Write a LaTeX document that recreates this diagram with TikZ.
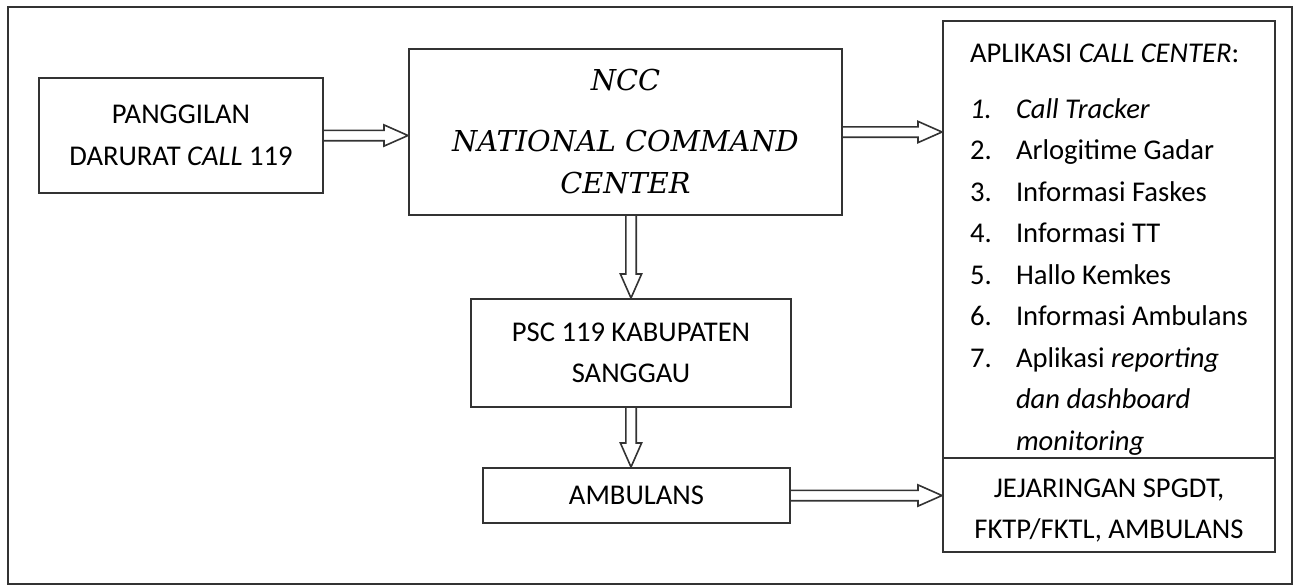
\documentclass[tikz,border=0pt]{standalone}
\usepackage{fontspec}
\setmainfont{Carlito}
\newfontfamily\nccfont{DejaVu Serif}
\usepackage{tikz}
\usetikzlibrary{calc}
\definecolor{sline}{HTML}{333333}
\newcommand\aplno[1]{\makebox[23pt][l]{#1}}
\tikzset{
  sframe/.style={draw=sline, line width=1.1pt},
  sbox/.style={draw=sline, line width=1pt, align=center, inner sep=0pt,
               font=\fontsize{14.3}{20.75}\selectfont},
  snccfont/.style={font=\nccfont\itshape\fontsize{14.4}{21}\selectfont},
  sarrow/.style={draw=sline, line width=0.8pt,
    to path={($(\tikztostart)!2.6pt!90:(\tikztotarget)$)
      -- ($(\tikztotarget)!12pt!(\tikztostart)!2.6pt!90:(\tikztotarget)$)
      -- ($(\tikztotarget)!12pt!(\tikztostart)!5.3pt!90:(\tikztotarget)$)
      -- (\tikztotarget)
      -- ($(\tikztotarget)!12pt!(\tikztostart)!5.3pt!-90:(\tikztotarget)$)
      -- ($(\tikztotarget)!12pt!(\tikztostart)!2.6pt!-90:(\tikztotarget)$)
      -- ($(\tikztostart)!2.6pt!-90:(\tikztotarget)$)}},
}
\begin{document}
\begin{tikzpicture}[x=0.5pt,y=-0.5pt]

  \useasboundingbox (0,0) rectangle (1297,586);
  \draw[sframe] (8,7) rectangle (1292,584);

  % kotak alur
  \node[sbox, minimum width=142pt, minimum height=57.5pt] (call) at (181,135.5)
    {PANGGILAN\\DARURAT \textit{CALL} 119};
  \node[sbox, snccfont, minimum width=216.5pt, minimum height=83pt] (ncc) at (625.5,132)
    {NCC\\[9.5pt]NATIONAL COMMAND\\CENTER};
  \node[sbox, minimum width=160pt, minimum height=54pt] (psc) at (631,353)
    {PSC 119 KABUPATEN\\SANGGAU};
  \node[sbox, minimum width=153.5pt, minimum height=27.5pt] (amb) at (636.5,495.5)
    {AMBULANS};

  % aplikasi dan jejaring
  \node[sbox, align=left, minimum width=166pt, minimum height=218.5pt] (apl) at (1109,239.5)
    {\rule{0pt}{19pt}APLIKASI \textit{CALL CENTER}:\\[7.25pt]
     \aplno{\textit{1.}}\textit{Call Tracker}\\
     \aplno{2.}Arlogitime Gadar\\
     \aplno{3.}Informasi Faskes\\
     \aplno{4.}Informasi TT\\
     \aplno{5.}Hallo Kemkes\\
     \aplno{6.}Informasi Ambulans\\
     \aplno{7.}Aplikasi \textit{reporting}\\
     \aplno{}\textit{dan dashboard}\\
     \aplno{}\textit{monitoring}};
  \node[sbox, minimum width=166pt, minimum height=47pt] (jej) at (1109,505)
    {\rule{0pt}{15pt}JEJARINGAN SPGDT,\\FKTP/FKTL, AMBULANS};

  % panah
  \draw[sarrow] (call.east) to (call.east -| ncc.west);
  \draw[sarrow] (ncc.east) to (ncc.east -| apl.west);
  \draw[sarrow] (psc.north |- ncc.south) to (psc.north);
  \draw[sarrow] (psc.south) to (psc.south |- amb.north);
  \draw[sarrow] (amb.east) to (amb.east -| jej.west);

\end{tikzpicture}
\end{document}
